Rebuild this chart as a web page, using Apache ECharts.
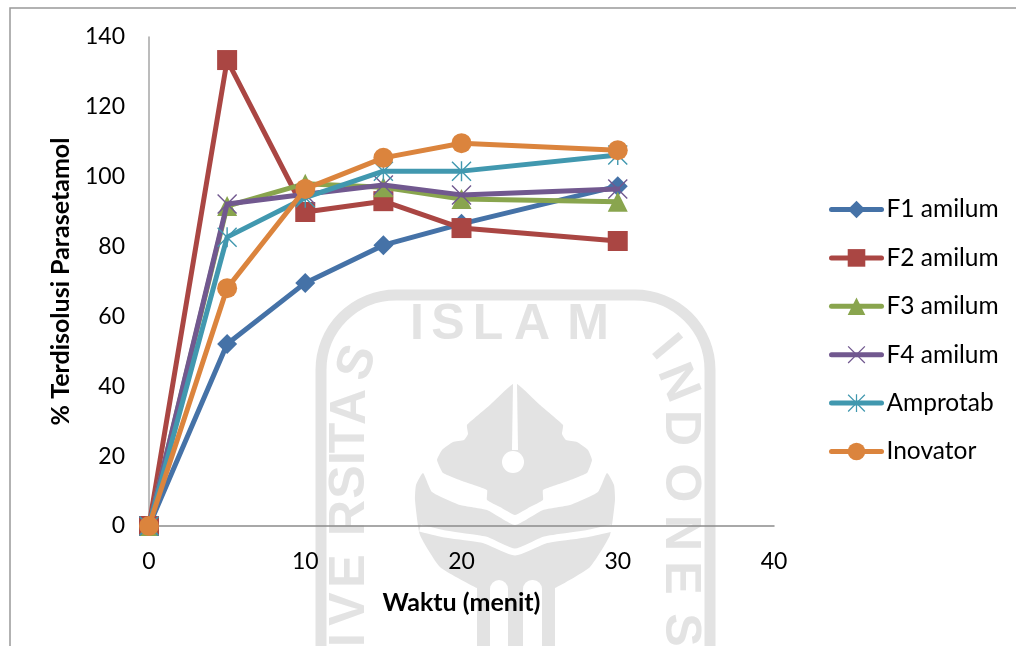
<!DOCTYPE html>
<html>
<head>
<meta charset="utf-8">
<style>
  html, body { margin: 0; padding: 0; background: #fff; }
  #main { width: 1016px; height: 646px; }
</style>
<script src="https://cdn.jsdelivr.net/npm/echarts@6/dist/echarts.min.js"></script>
</head>
<body>
<div id="main"></div>
<script>
const waktu = [0, 5, 10, 15, 20, 30];
const f1Amilum = [0, 52.1, 69.6, 80.4, 86.5, 97.3];
const f2Amilum = [0, 133.4, 89.9, 93, 85.3, 81.6];
const f3Amilum = [0, 91.6, 98, 97, 93.6, 92.8];
const f4Amilum = [0, 92.2, 95, 97.6, 94.8, 96.5];
const amprotab = [0, 82.7, 94, 101.6, 101.6, 106.2];
const inovator = [0, 68.1, 96.5, 105.4, 109.6, 107.6];

const FONT = 'Lato';
const INK = '#000';
const WM = '#e3e3e3';

// garis tipis untuk marker x dan bintang
const crossPath = 'M0 1L1 0L10 9L19 0L20 1L11 10L20 19L19 20L10 11L1 20L0 19L9 10Z';
const starPath = crossPath + 'M9.3 0L10.7 0L10.7 20L9.3 20Z';

function makeSeries(name, values, color, symbol, size) {
  return {
    name: name,
    type: 'line',
    data: values.map((v, i) => [waktu[i], v]),
    symbol: symbol,
    symbolSize: size,
    showAllSymbol: true,
    clip: false,
    lineStyle: { color: color, width: 5, cap: 'round', join: 'round' },
    itemStyle: { color: color },
    emphasis: { disabled: true }
  };
}

const series = [
  makeSeries('F1 amilum', f1Amilum, '#4572a7', 'diamond', 20),
  makeSeries('F2 amilum', f2Amilum, '#aa4643', 'rect', 20),
  makeSeries('F3 amilum', f3Amilum, '#89a54e', 'triangle', 20),
  makeSeries('F4 amilum', f4Amilum, '#71588f', 'path://' + crossPath, 20),
  makeSeries('Amprotab', amprotab, '#4198af', 'path://' + starPath, 20),
  makeSeries('Inovator', inovator, '#db843d', 'circle', 20)
];
series.forEach((s, i) => { s.z = 3 + i; });

// watermark di belakang chart
function wmLetter(ch, x, y, deg) {
  return {
    type: 'text', z: -5, silent: true, x: x, y: y,
    rotation: (deg || 0) * Math.PI / 180,
    style: { text: ch, fill: WM, font: 'bold 50px "Liberation Sans"', align: 'center', verticalAlign: 'middle' }
  };
}
function wmPoly(points, fill, smooth) {
  return {
    type: 'polygon', z: -6, silent: true,
    shape: { points: points, smooth: smooth || 0 },
    style: { fill: fill }
  };
}

const graphic = [
  // bingkai
  { type: 'rect', z: -8, silent: true, shape: { x: 10, y: 8, width: 1200, height: 800 },
    style: { fill: '#fff', stroke: '#999', lineWidth: 1.5 } },
  { type: 'rect', z: -7, silent: true, shape: { x: 321, y: 295, width: 389, height: 600, r: 75 },
    style: { fill: 'none', stroke: WM, lineWidth: 11 } },
  wmLetter('I', 417, 325), wmLetter('S', 448, 325), wmLetter('L', 488, 325),
  wmLetter('A', 532, 325), wmLetter('M', 588, 325),
  wmLetter('S', 358, 363, 72), wmLetter('A', 351, 407, 90), wmLetter('T', 350, 438, 90),
  wmLetter('I', 350, 458, 90), wmLetter('S', 350, 482, 90), wmLetter('R', 350, 518, 90),
  wmLetter('E', 350, 571, 90), wmLetter('V', 350, 609, 90), wmLetter('I', 350, 640, 90),
  wmLetter('I', 665, 348, -50), wmLetter('N', 677, 383, -68), wmLetter('D', 680, 428, -90),
  wmLetter('O', 680, 483, -90), wmLetter('N', 680, 533, -90), wmLetter('E', 680, 578, -90),
  wmLetter('S', 680, 630, -90),
  // daun atas
  wmPoly([[515, 383], [540, 405], [563, 425], [562, 434], [566, 440], [577, 442], [588, 450], [592, 460], [587, 473],
    [565, 482], [543, 490], [543, 500], [530, 507], [515, 515], [500, 507], [487, 500], [487, 490], [465, 482],
    [443, 473], [437, 460], [442, 450], [453, 442], [464, 440], [468, 434], [467, 425], [490, 405]], WM, 0.12),
  wmPoly([[513, 383], [517, 383], [518, 450], [512, 450]], '#fff'),
  { type: 'circle', z: -6, silent: true, shape: { cx: 513, cy: 462, r: 11 }, style: { fill: '#fff' } },
  // mangkuk bawah
  wmPoly([[423, 473], [416, 485], [415, 500], [420, 535], [440, 567], [477, 588], [515, 600], [555, 588],
    [590, 567], [610, 535], [615, 500], [614, 485], [607, 473], [598, 492], [570, 505], [543, 510], [515, 525],
    [487, 510], [460, 505], [432, 492]], WM, 0.15),
  { type: 'polyline', z: -6, silent: true,
    shape: { points: [[420, 528], [445, 534], [485, 540], [515, 552], [545, 540], [585, 534], [612, 528]], smooth: 0.2 },
    style: { stroke: '#fff', lineWidth: 7, fill: 'none' } },
  { type: 'rect', z: -6, silent: true, shape: { x: 477, y: 575, width: 78, height: 90 }, style: { fill: WM } },
  { type: 'rect', z: -6, silent: true, shape: { x: 490, y: 580, width: 18, height: 80, r: [9, 9, 0, 0] }, style: { fill: '#fff' } },
  { type: 'rect', z: -6, silent: true, shape: { x: 523, y: 580, width: 19, height: 80, r: [9, 9, 0, 0] }, style: { fill: '#fff' } }
];

const chart = echarts.init(document.getElementById('main'));
chart.setOption({
  animation: false,
  backgroundColor: '#fff',
  graphic: graphic,
  grid: { left: 149, right: 242, top: 37, bottom: 120 },
  legend: {
    orient: 'vertical',
    left: 824,
    top: 192,
    itemWidth: 50,
    itemHeight: 22,
    itemGap: 23.4,
    selectedMode: false,
    lineStyle: { width: 5, cap: 'round' },
    textStyle: { fontFamily: FONT, fontSize: 24.5, color: INK },
    data: series.map(s => s.name)
  },
  xAxis: {
    type: 'value',
    min: 0,
    max: 40,
    interval: 10,
    name: 'Waktu (menit)',
    nameLocation: 'middle',
    nameGap: 64,
    nameTextStyle: { fontFamily: FONT, fontSize: 25, fontWeight: 'bold', color: INK },
    axisLine: { show: true, lineStyle: { color: '#8c8c8c', width: 1.5 } },
    axisTick: { show: false },
    splitLine: { show: false },
    axisLabel: { fontFamily: FONT, fontSize: 23, color: INK, margin: 24 }
  },
  yAxis: {
    type: 'value',
    min: 0,
    max: 140,
    interval: 20,
    name: '% Terdisolusi Parasetamol',
    nameLocation: 'middle',
    nameGap: 76,
    nameTextStyle: { fontFamily: FONT, fontSize: 25, fontWeight: 'bold', color: INK },
    axisLine: { show: true, lineStyle: { color: '#a6a6a6', width: 1.5 } },
    axisTick: { show: false },
    splitLine: { show: false },
    axisLabel: { fontFamily: FONT, fontSize: 23, color: INK, margin: 24, padding: [3, 0, 0, 0] }
  },
  series: series
});
</script>
</body>
</html>
